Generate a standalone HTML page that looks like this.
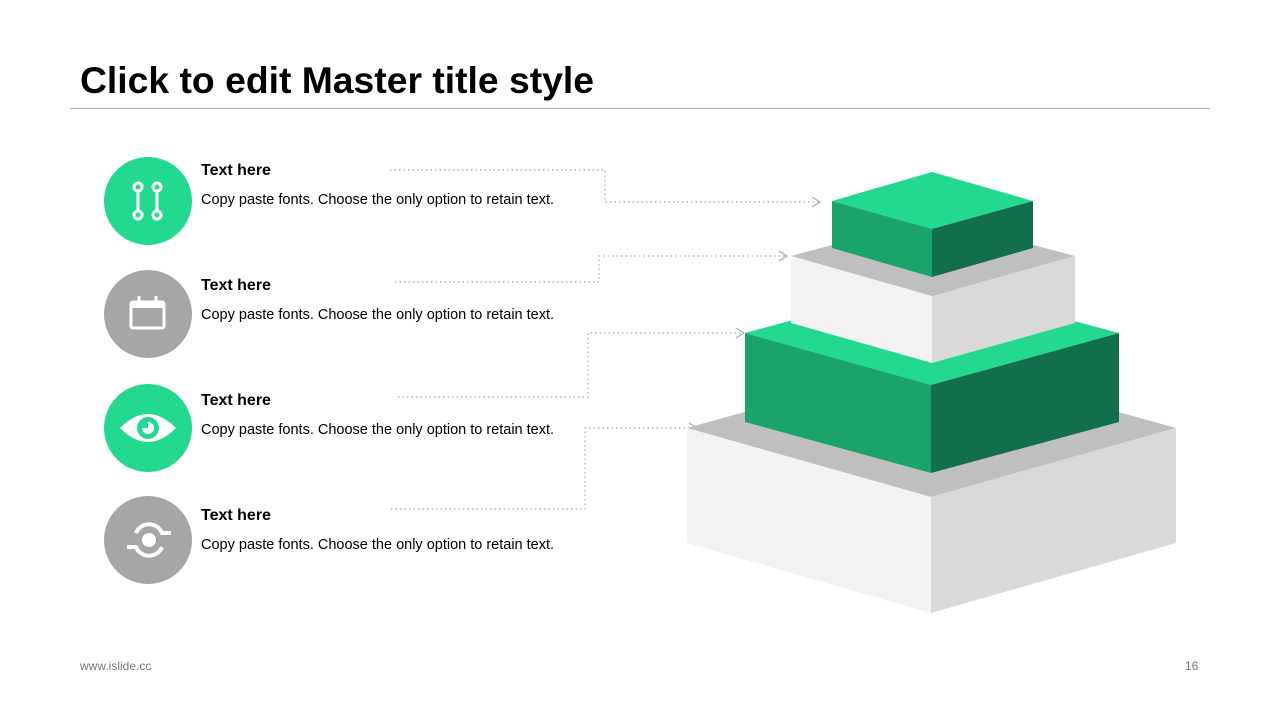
<!DOCTYPE html>
<html><head><meta charset="utf-8"><style>
body{margin:0;width:1280px;height:720px;background:#fff;font-family:"Liberation Sans",sans-serif;position:relative;overflow:hidden}
.t{position:absolute;left:80px;top:59px;font-size:37.3px;font-weight:bold;color:#000}
.hr{position:absolute;left:70px;top:108px;width:1140px;height:1px;background:#aaa}
.h{position:absolute;left:201px;font-size:16px;font-weight:bold;color:#000}
.b{position:absolute;left:201px;font-size:14.5px;color:#000}
.f{position:absolute;top:659px;font-size:12px;color:#777}
</style></head><body>
<div class="t">Click to edit Master title style</div>
<div class="hr"></div>
<div class="h" style="top:162px">Text here</div><div class="b" style="top:192px">Copy paste fonts. Choose the only option to retain text.</div>
<div class="h" style="top:277px">Text here</div><div class="b" style="top:307px">Copy paste fonts. Choose the only option to retain text.</div>
<div class="h" style="top:392px">Text here</div><div class="b" style="top:422px">Copy paste fonts. Choose the only option to retain text.</div>
<div class="h" style="top:507px">Text here</div><div class="b" style="top:537px">Copy paste fonts. Choose the only option to retain text.</div>
<div class="f" style="left:80px">www.islide.cc</div>
<div class="f" style="left:1185px">16</div>
<svg width="1280" height="720" style="position:absolute;left:0;top:0">
<g fill="none" stroke="#aaa" stroke-width="1.2" stroke-dasharray="1.5 3">
<polyline points="390,170 605,170 605,202 818,202"/>
<polyline points="395,282 599,282 599,256 785,256"/>
<polyline points="398,397 588,397 588,333 742,333"/>
<polyline points="391,509 585,509 585,428 694,428"/>
</g>
<g fill="none" stroke="#aaa" stroke-width="1.2">
<polyline points="812,197 820,202 812,207"/>
<polyline points="779,251 787,256 779,261"/>
<polyline points="736,328 744,333 736,338"/>
<polyline points="689,423 697,428 689,433"/>
</g>
<polygon points="687,428 931,360 1176,428 931,497" fill="#bfbfbf"/>
<polygon points="687,428 931,497 931,613 687,543" fill="#f2f2f2"/>
<polygon points="931,497 1176,428 1176,543 931,613" fill="#d9d9d9"/>
<polygon points="745,333 931,283 1119,333 931,385" fill="#23d88f"/>
<polygon points="745,333 931,385 931,473 745,422" fill="#1aa36b"/>
<polygon points="931,385 1119,333 1119,422 931,473" fill="#126f4b"/>
<polygon points="791,256 932,218 1075,256 932,296" fill="#bfbfbf"/>
<polygon points="791,256 932,296 932,363 791,323" fill="#f2f2f2"/>
<polygon points="932,296 1075,256 1075,323 932,363" fill="#d9d9d9"/>
<polygon points="832,201 932,172 1033,201 932,229" fill="#23d88f"/>
<polygon points="832,201 932,229 932,277 832,248" fill="#1aa36b"/>
<polygon points="932,229 1033,201 1033,248 932,277" fill="#126f4b"/>
<circle cx="148" cy="201" r="44" fill="#23d88f"/>
<circle cx="148" cy="314" r="44" fill="#a6a6a6"/>
<circle cx="148" cy="428" r="44" fill="#23d88f"/>
<circle cx="148" cy="540" r="44" fill="#a6a6a6"/>
<g stroke="#fff" stroke-width="3" fill="none">
<circle cx="138" cy="187" r="4"/><circle cx="138" cy="215" r="4"/><line x1="138" y1="191" x2="138" y2="211"/>
<circle cx="157" cy="187" r="4"/><circle cx="157" cy="215" r="4"/><line x1="157" y1="191" x2="157" y2="211"/>
<rect x="131" y="302" width="33" height="26" rx="2"/>
<line x1="139" y1="296" x2="139" y2="303"/><line x1="156" y1="296" x2="156" y2="303"/>
</g>
<rect x="131" y="302" width="33" height="6" fill="#fff"/>
<path d="M120,428 Q148,400 176,428 Q148,456 120,428Z" fill="#fff"/>
<circle cx="148" cy="428" r="11" fill="#23d88f"/>
<circle cx="148" cy="428" r="6" fill="#fff"/>
<path d="M148,428 L148,422 A6,6 0 0 0 142,428Z" fill="#23d88f"/>
<circle cx="149" cy="540" r="7" fill="#fff"/>
<g stroke="#fff" stroke-width="4" fill="none">
<path d="M136,533 A14,14 0 0 1 162,533 L171,533"/>
<path d="M162,547 A14,14 0 0 1 136,547 L127,547"/>
</g>
</svg>
</body></html>
